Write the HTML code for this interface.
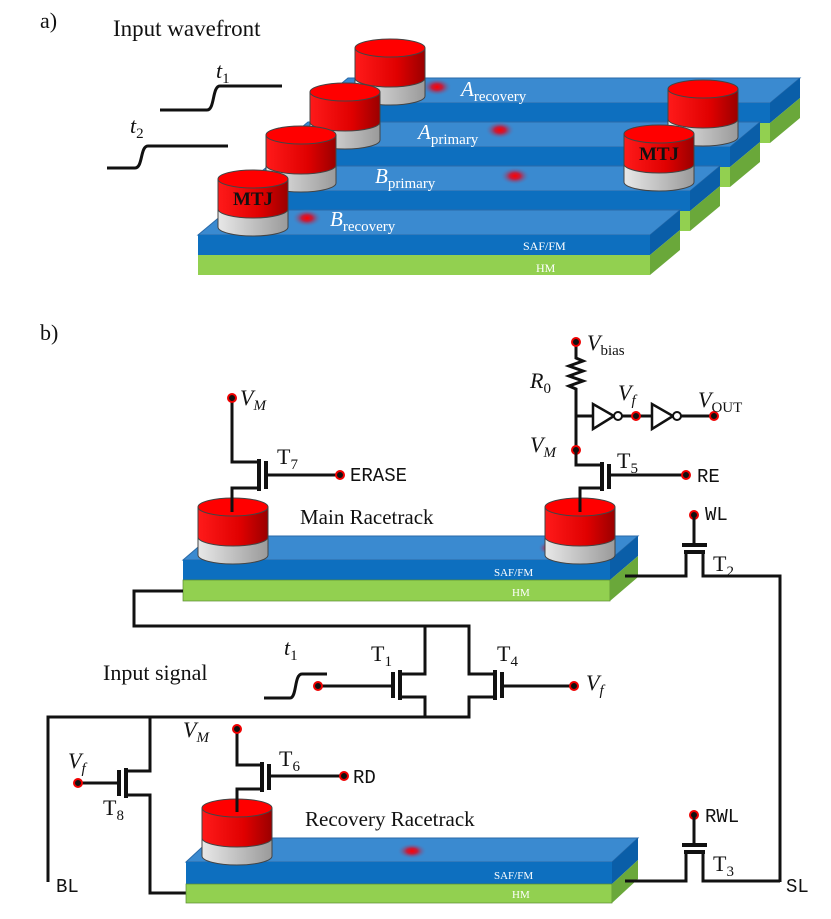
<!DOCTYPE html>
<html><head><meta charset="utf-8"><style>
html,body{margin:0;padding:0;background:#fff;width:831px;height:919px;overflow:hidden}
svg{display:block}
text{font-family:"Liberation Serif",serif;fill:#111}
.m{font-family:"Liberation Mono",monospace}
.w{fill:#fff}
.wire{stroke:#111;stroke-width:3;fill:none}
.g{stroke:#111;stroke-width:4;fill:none}
.dot{fill:#111;stroke:#e00;stroke-width:2}
</style></head><body>
<svg width="831" height="919" viewBox="0 0 831 919" xmlns="http://www.w3.org/2000/svg">
<defs>
<linearGradient id="red" x1="0" x2="1"><stop offset="0" stop-color="#ff1a1a"/><stop offset="0.6" stop-color="#e00000"/><stop offset="1" stop-color="#9a0000"/></linearGradient>
<linearGradient id="gray" x1="0" x2="1"><stop offset="0" stop-color="#e8e8e8"/><stop offset="1" stop-color="#9a9a9a"/></linearGradient>
<radialGradient id="sk"><stop offset="0" stop-color="#ff0000"/><stop offset="0.35" stop-color="#c02040"/><stop offset="1" stop-color="#3a8ad0" stop-opacity="0"/></radialGradient>
<g id="cyl">
<ellipse cx="35" cy="48" rx="35" ry="9" fill="url(#gray)" stroke="#444"/>
<rect x="0" y="30" width="70" height="18" fill="url(#gray)"/>
<line x1="0" y1="30" x2="0" y2="48" stroke="#444"/><line x1="70" y1="30" x2="70" y2="48" stroke="#444"/>
<ellipse cx="35" cy="30" rx="35" ry="9" fill="url(#red)" stroke="#444"/>
<rect x="0" y="0" width="70" height="30" fill="url(#red)"/>
<line x1="0" y1="0" x2="0" y2="30" stroke="#444"/><line x1="70" y1="0" x2="70" y2="30" stroke="#444"/>
<ellipse cx="35" cy="0" rx="35" ry="9" fill="#f00" stroke="#444"/>
</g>
</defs>

<!-- Part a -->
<text x="40" y="28" font-size="22">a)</text>
<text x="113" y="36" font-size="23">Input wavefront</text>
<path class="wire" d="M160 110 H207 C215 110 212 86 220 86 H282" stroke-width="2.5"/>
<text x="216" y="78" font-size="22" font-style="italic">t<tspan font-size="15" font-style="normal" dy="5">1</tspan></text>
<path class="wire" d="M107 168 H135 C143 168 140 146 148 146 H228" stroke-width="2.5"/>
<text x="130" y="133" font-size="22" font-style="italic">t<tspan font-size="15" font-style="normal" dy="5">2</tspan></text>

<g id="tracks">
<polygon points="318,103 770,103 800,78 348,78" fill="#3a8ad0" stroke="#2a6aa8"/>
<rect x="318" y="103" width="452" height="20" fill="#0d6fbf"/>
<rect x="318" y="123" width="452" height="20" fill="#92d050"/>
<polygon points="770,103 800,78 800,98 770,123" fill="#0a5ea8"/>
<polygon points="770,123 800,98 800,118 770,143" fill="#6aa83a"/>
<polygon points="278,147 730,147 760,122 308,122" fill="#3a8ad0" stroke="#2a6aa8"/>
<rect x="278" y="147" width="452" height="20" fill="#0d6fbf"/>
<rect x="278" y="167" width="452" height="20" fill="#92d050"/>
<polygon points="730,147 760,122 760,142 730,167" fill="#0a5ea8"/>
<polygon points="730,167 760,142 760,162 730,187" fill="#6aa83a"/>
<polygon points="238,191 690,191 720,166 268,166" fill="#3a8ad0" stroke="#2a6aa8"/>
<rect x="238" y="191" width="452" height="20" fill="#0d6fbf"/>
<rect x="238" y="211" width="452" height="20" fill="#92d050"/>
<polygon points="690,191 720,166 720,186 690,211" fill="#0a5ea8"/>
<polygon points="690,211 720,186 720,206 690,231" fill="#6aa83a"/>
<polygon points="198,235 650,235 680,210 228,210" fill="#3a8ad0" stroke="#2a6aa8"/>
<rect x="198" y="235" width="452" height="20" fill="#0d6fbf"/>
<rect x="198" y="255" width="452" height="20" fill="#92d050"/>
<polygon points="650,235 680,210 680,230 650,255" fill="#0a5ea8"/>
<polygon points="650,255 680,230 680,250 650,275" fill="#6aa83a"/>
</g>
<text x="523" y="250" font-size="12" class="w">SAF/FM</text>
<text x="536" y="272" font-size="12" class="w">HM</text>

<ellipse cx="437" cy="87" rx="15" ry="9" fill="url(#sk)"/>
<ellipse cx="500" cy="130" rx="15" ry="9" fill="url(#sk)"/>
<ellipse cx="515" cy="176" rx="15" ry="9" fill="url(#sk)"/>
<ellipse cx="307" cy="218" rx="15" ry="9" fill="url(#sk)"/>

<use href="#cyl" x="355" y="48"/>
<use href="#cyl" x="310" y="92"/>
<use href="#cyl" x="266" y="135"/>
<use href="#cyl" x="218" y="179"/>
<use href="#cyl" x="668" y="89"/>
<use href="#cyl" x="624" y="134"/>
<text x="253" y="205" font-size="19" font-weight="bold" text-anchor="middle">MTJ</text>
<text x="659" y="160" font-size="19" font-weight="bold" text-anchor="middle">MTJ</text>

<text x="461" y="96" font-size="21" font-style="italic" class="w">A<tspan font-style="normal" font-size="15" dy="5">recovery</tspan></text>
<text x="418" y="139" font-size="21" font-style="italic" class="w">A<tspan font-style="normal" font-size="15" dy="5">primary</tspan></text>
<text x="375" y="183" font-size="21" font-style="italic" class="w">B<tspan font-style="normal" font-size="15" dy="5">primary</tspan></text>
<text x="330" y="226" font-size="21" font-style="italic" class="w">B<tspan font-style="normal" font-size="15" dy="5">recovery</tspan></text>

<!-- Part b -->
<text x="40" y="340" font-size="22">b)</text>

<polygon points="183,560 610,560 638,536 211,536" fill="#3a8ad0" stroke="#2a6aa8"/>
<rect x="183" y="560" width="427" height="20" fill="#0d6fbf"/>
<rect x="183" y="580" width="427" height="21" fill="#92d050" stroke="#5a8a30" stroke-width="0.7"/>
<polygon points="610,560 638,536 638,556 610,580" fill="#0a5ea8"/>
<polygon points="610,580 638,556 638,577 610,601" fill="#6aa83a"/>
<text x="494" y="576" font-size="11" class="w">SAF/FM</text>
<text x="512" y="596" font-size="11" class="w">HM</text>
<text x="300" y="524" font-size="21">Main Racetrack</text>
<use href="#cyl" x="198" y="507"/>
<ellipse cx="550" cy="548" rx="12" ry="7" fill="url(#sk)"/>
<use href="#cyl" x="545" y="507"/>

<!-- T7 -->
<path class="wire" d="M232 398 V462 H258"/>
<path class="wire" d="M258 488 H232 V512"/>
<line class="g" x1="259" y1="459" x2="259" y2="491"/>
<line class="g" x1="266" y1="461" x2="266" y2="489"/>
<path class="wire" d="M266 475 H340"/>
<circle class="dot" cx="232" cy="398" r="4"/>
<circle class="dot" cx="340" cy="475" r="4"/>
<text x="240" y="405" font-size="22" font-style="italic">V<tspan font-size="15" dy="5">M</tspan></text>
<text x="277" y="464" font-size="22">T<tspan font-size="15" dy="5">7</tspan></text>
<text x="350" y="481" font-size="19" class="m">ERASE</text>

<!-- right readout -->
<path class="wire" d="M576 342 V358 l7 3 l-14 5 l14 5 l-14 5 l14 5 l-14 5 l7 3 V451" stroke-width="2.5"/>
<path class="wire" d="M576 416 H593" stroke-width="2.5"/>
<polygon points="593,404 593,429 614,416" fill="#fff" stroke="#111" stroke-width="2.5"/>
<circle cx="618" cy="416" r="4" fill="#fff" stroke="#111" stroke-width="2"/>
<path class="wire" d="M622 416 H652" stroke-width="2.5"/>
<polygon points="652,404 652,429 673,416" fill="#fff" stroke="#111" stroke-width="2.5"/>
<circle cx="677" cy="416" r="4" fill="#fff" stroke="#111" stroke-width="2"/>
<path class="wire" d="M681 416 H714" stroke-width="2.5"/>
<circle class="dot" cx="576" cy="342" r="4"/>
<circle class="dot" cx="636" cy="416" r="4"/>
<circle class="dot" cx="714" cy="416" r="4"/>
<circle class="dot" cx="576" cy="450" r="4"/>
<text x="587" y="350" font-size="22" font-style="italic">V<tspan font-style="normal" font-size="15" dy="5">bias</tspan></text>
<text x="530" y="388" font-size="22" font-style="italic">R<tspan font-style="normal" font-size="15" dy="5">0</tspan></text>
<text x="618" y="400" font-size="22" font-style="italic">V<tspan font-size="15" dy="5">f</tspan></text>
<text x="698" y="407" font-size="22" font-style="italic">V<tspan font-style="normal" font-size="15" dy="5">OUT</tspan></text>
<text x="530" y="452" font-size="22" font-style="italic">V<tspan font-size="15" dy="5">M</tspan></text>
<path class="wire" d="M576 450 V465 H600"/>
<path class="wire" d="M600 488 H580 V512"/>
<line class="g" x1="602" y1="462" x2="602" y2="491"/>
<line class="g" x1="609" y1="464" x2="609" y2="489"/>
<path class="wire" d="M609 475 H686"/>
<circle class="dot" cx="686" cy="475" r="4"/>
<text x="617" y="468" font-size="22">T<tspan font-size="15" dy="5">5</tspan></text>
<text x="697" y="482" font-size="19" class="m">RE</text>

<!-- T2 -->
<circle class="dot" cx="694" cy="515" r="4"/>
<path class="wire" d="M694 515 V543"/>
<line class="g" x1="682" y1="545" x2="707" y2="545"/>
<line class="g" x1="684" y1="552" x2="705" y2="552"/>
<path class="wire" d="M686 552 V576 H625"/>
<path class="wire" d="M703 552 V576 H780 V882"/>
<text x="705" y="520" font-size="19" class="m">WL</text>
<text x="713" y="571" font-size="22">T<tspan font-size="15" dy="5">2</tspan></text>
<text x="786" y="892" font-size="19" class="m">SL</text>

<path class="wire" d="M183 591 H134 V626 H469 V674 H495"/>
<path class="wire" d="M425 626 V674 H400"/>
<path class="wire" d="M400 697 H425 V717"/>
<path class="wire" d="M495 697 H469 V717 H48 V882"/>
<line class="g" x1="400" y1="670" x2="400" y2="700"/>
<line class="g" x1="393" y1="672" x2="393" y2="698"/>
<line class="g" x1="495" y1="670" x2="495" y2="700"/>
<line class="g" x1="502" y1="672" x2="502" y2="698"/>
<path class="wire" d="M318 686 H393"/>
<path class="wire" d="M502 686 H574"/>
<circle class="dot" cx="318" cy="686" r="4"/>
<circle class="dot" cx="574" cy="686" r="4"/>
<path class="wire" d="M264 698 H290 C297 698 294 674 302 674 H327" stroke-width="2.5"/>
<text x="284" y="655" font-size="22" font-style="italic">t<tspan font-size="15" font-style="normal" dy="5">1</tspan></text>
<text x="371" y="661" font-size="22">T<tspan font-size="15" dy="5">1</tspan></text>
<text x="497" y="661" font-size="22">T<tspan font-size="15" dy="5">4</tspan></text>
<text x="586" y="690" font-size="22" font-style="italic">V<tspan font-size="15" dy="5">f</tspan></text>
<text x="103" y="680" font-size="22">Input signal</text>
<text x="56" y="892" font-size="19" class="m">BL</text>

<!-- T8 -->
<path class="wire" d="M150 717 V771 H126"/>
<path class="wire" d="M126 795 H150 V893 H186"/>
<line class="g" x1="126" y1="768" x2="126" y2="798"/>
<line class="g" x1="119" y1="770" x2="119" y2="796"/>
<path class="wire" d="M78 783 H119"/>
<circle class="dot" cx="78" cy="783" r="4"/>
<text x="68" y="768" font-size="22" font-style="italic">V<tspan font-size="15" dy="5">f</tspan></text>
<text x="103" y="815" font-size="22">T<tspan font-size="15" dy="5">8</tspan></text>

<!-- Recovery track -->
<polygon points="186,862 612,862 638,838 212,838" fill="#3a8ad0" stroke="#2a6aa8"/>
<rect x="186" y="862" width="426" height="22" fill="#0d6fbf"/>
<rect x="186" y="884" width="426" height="19" fill="#92d050" stroke="#5a8a30" stroke-width="0.7"/>
<polygon points="612,862 638,838 638,860 612,884" fill="#0a5ea8"/>
<polygon points="612,884 638,860 638,879 612,903" fill="#6aa83a"/>
<text x="494" y="879" font-size="11" class="w">SAF/FM</text>
<text x="512" y="898" font-size="11" class="w">HM</text>
<ellipse cx="412" cy="851" rx="15" ry="8" fill="url(#sk)"/>
<text x="305" y="826" font-size="21">Recovery Racetrack</text>
<use href="#cyl" x="202" y="808"/>

<!-- T6 -->
<path class="wire" d="M237 729 V765 H261"/>
<path class="wire" d="M261 789 H237 V812"/>
<line class="g" x1="262" y1="762" x2="262" y2="792"/>
<line class="g" x1="269" y1="764" x2="269" y2="790"/>
<path class="wire" d="M269 776 H344"/>
<circle class="dot" cx="237" cy="729" r="4"/>
<circle class="dot" cx="344" cy="776" r="4"/>
<text x="183" y="737" font-size="22" font-style="italic">V<tspan font-size="15" dy="5">M</tspan></text>
<text x="279" y="766" font-size="22">T<tspan font-size="15" dy="5">6</tspan></text>
<text x="353" y="783" font-size="19" class="m">RD</text>

<!-- T3 -->
<circle class="dot" cx="694" cy="815" r="4"/>
<path class="wire" d="M694 815 V843"/>
<line class="g" x1="682" y1="845" x2="707" y2="845"/>
<line class="g" x1="684" y1="852" x2="705" y2="852"/>
<path class="wire" d="M686 852 V881 H625"/>
<path class="wire" d="M703 852 V881 H780"/>
<text x="705" y="822" font-size="19" class="m">RWL</text>
<text x="713" y="871" font-size="22">T<tspan font-size="15" dy="5">3</tspan></text>
</svg>
</body></html>
